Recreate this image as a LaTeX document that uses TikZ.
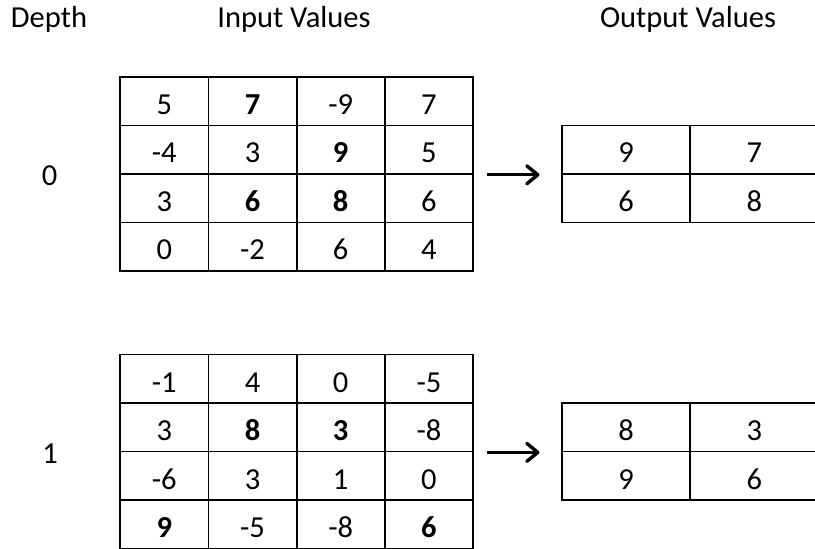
\documentclass[tikz,border=0pt]{standalone}
\usepackage{fontspec}
\setmainfont{Carlito}
\usetikzlibrary{arrows.meta}
\begin{document}
\begin{tikzpicture}[x=1pt,y=-1pt,
  cell/.style={draw, line width=1.8pt, rectangle, anchor=north west, inner sep=0pt,
    text height=26.5pt, text depth=0pt, font=\fontsize{30.5}{36}\selectfont},
  incell/.style={cell, minimum width=88.2pt, minimum height=48.5pt},
  outcell/.style={cell, minimum width=128.3pt, minimum height=48.5pt},
  heading/.style={anchor=base, inner sep=0pt, font=\fontsize{30.5}{36}\selectfont},
  flow/.style={line width=2.8pt,
    -{Straight Barb[length=11pt,width=18pt,line width=3.4pt,round]}}]
\useasboundingbox (0,0) rectangle (815,549);

% column headings
\node[heading] (hdepth) at (49,27) {Depth};
\node[heading] (hin) at (294,27) {Input Values};
\node[heading] (hout) at (688,27) {Output Values};

% depth labels
\node[heading] (d0) at (49.7,185) {0};
\node[heading] (d1) at (50,463.3) {1};

% depth 0: input grid
\foreach \v [count=\k from 0] in {5,\textbf{7},-9,7,-4,3,\textbf{9},5,3,\textbf{6},\textbf{8},6,0,-2,6,4} {
  \pgfmathtruncatemacro\r{div(\k,4)}
  \pgfmathtruncatemacro\c{mod(\k,4)}
  \node[incell] (a-\r-\c) at (119.3+88.2*\c, 76+48.5*\r) {\v};
}
% depth 0: output grid
\foreach \v [count=\k from 0] in {9,7,6,8} {
  \pgfmathtruncatemacro\r{div(\k,2)}
  \pgfmathtruncatemacro\c{mod(\k,2)}
  \node[outcell] (p-\r-\c) at (561+128.3*\c, 124.5+48.5*\r) {\v};
}

% depth 1: input grid
\foreach \v [count=\k from 0] in {-1,4,0,-5,3,\textbf{8},\textbf{3},-8,-6,3,1,0,\textbf{9},-5,-8,\textbf{6}} {
  \pgfmathtruncatemacro\r{div(\k,4)}
  \pgfmathtruncatemacro\c{mod(\k,4)}
  \node[incell] (b-\r-\c) at (119.3+88.2*\c, 353.6+48.5*\r) {\v};
}
% depth 1: output grid
\foreach \v [count=\k from 0] in {8,3,9,6} {
  \pgfmathtruncatemacro\r{div(\k,2)}
  \pgfmathtruncatemacro\c{mod(\k,2)}
  \node[outcell] (q-\r-\c) at (561+128.3*\c, 402.1+48.5*\r) {\v};
}

% pooling arrows
\draw[flow, shorten <=13pt, shorten >=21.5pt] (a-1-3.south east) -- (p-0-0.south west);
\draw[flow, shorten <=13pt, shorten >=21.5pt] (b-1-3.south east) -- (q-0-0.south west);
\end{tikzpicture}
\end{document}
